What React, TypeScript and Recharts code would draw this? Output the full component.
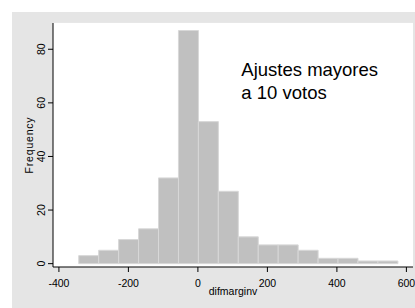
import React from 'react';
import { ComposedChart, Bar, XAxis, YAxis, CartesianGrid, ReferenceDot, ReferenceArea } from 'recharts';

const binCenters = [-314.3, -256.9, -199.5, -142.1, -84.7, -27.3, 30.1, 87.5, 144.9, 202.3, 259.7, 317.1, 374.5, 431.9, 489.3, 546.7];
const frequencies = [3, 5, 9, 13, 32, 87, 53, 27, 10, 7, 7, 5, 2, 2, 1, 1];
const xTicks = [-400, -200, 0, 200, 400, 600];
const yTicks = [0, 20, 40, 60, 80];
const xDomain = [-417, 619];
const yDomain = [-1.25, 89.8];
const annotationLines = ['Ajustes mayores', 'a 10 votos'];

const data = binCenters.map((x, i) => ({ x, freq: frequencies[i] }));

const FONT = '"Liberation Sans", Arial, Helvetica, sans-serif';

const YTick = (props: any) => {
  const { x, y, payload } = props;
  const bx = x - 1;
  return (
    <text x={bx} y={y} transform={`rotate(-90, ${bx}, ${y})`} textAnchor="middle" fontSize={10.5} fontFamily={FONT} fill="#000">
      {payload.value}
    </text>
  );
};

const YLabel = (props: any) => {
  const vb = props.viewBox || {};
  const cy = (vb.y ?? 23) + (vb.height ?? 244) / 2;
  const bx = 33;
  return (
    <text x={bx} y={cy} transform={`rotate(-90, ${bx}, ${cy})`} textAnchor="middle" fontSize={10.5} letterSpacing={0.8} fontFamily={FONT} fill="#000">
      Frequency
    </text>
  );
};

const XLabel = (props: any) => {
  const vb = props.viewBox || {};
  const cx = (vb.x ?? 53) + (vb.width ?? 360) / 2;
  return (
    <text x={cx} y={294.5} textAnchor="middle" fontSize={10.5} fontFamily={FONT} fill="#000">
      difmarginv
    </text>
  );
};

const Annotation = (props: any) => {
  const { cx, cy } = props;
  if (cx == null || cy == null) return null;
  return (
    <text x={cx} y={cy} fontSize={18.5} fontFamily={FONT} fill="#000">
      <tspan x={cx} dy={0}>{annotationLines[0]}</tspan>
      <tspan x={cx} dy={22.5}>{annotationLines[1]}</tspan>
    </text>
  );
};

export default function App() {
  return (
    <div style={{ position: 'absolute', left: 0, top: 0, width: 415, height: 308, background: '#fff' }}>
      <div style={{ position: 'absolute', left: 12, top: 12, width: 403, height: 296, background: '#e5e5e5' }} />
      <div style={{ position: 'absolute', left: 0, top: 0 }}>
        <ComposedChart width={415} height={308} data={data} margin={{ top: 23, right: 2, bottom: 11, left: 0 }} barCategoryGap={0} barGap={0}>
          <ReferenceArea x1={xDomain[0]} x2={xDomain[1]} y1={yDomain[0]} y2={yDomain[1]} fill="#ffffff" fillOpacity={1} stroke="none" ifOverflow="visible" />
          <CartesianGrid horizontal vertical={false} stroke="#e8e8e8" strokeWidth={1} />
          <XAxis dataKey="x" type="number" domain={xDomain} ticks={xTicks} allowDataOverflow height={30} tickSize={5} tickMargin={8}
            stroke="#000" tick={{ fontSize: 10.5, fill: '#000', fontFamily: FONT }} label={<XLabel />} />
          <YAxis type="number" domain={yDomain} ticks={yTicks} allowDataOverflow width={53} tickSize={5} tickMargin={2}
            stroke="#000" tick={<YTick />} label={<YLabel />} />
          <Bar dataKey="freq" fill="#c0c0c0" stroke="#d8d8d8" strokeWidth={1} isAnimationActive={false} />
          <ReferenceDot x={125} y={70} r={0} shape={<Annotation />} ifOverflow="visible" />
        </ComposedChart>
      </div>
    </div>
  );
}
